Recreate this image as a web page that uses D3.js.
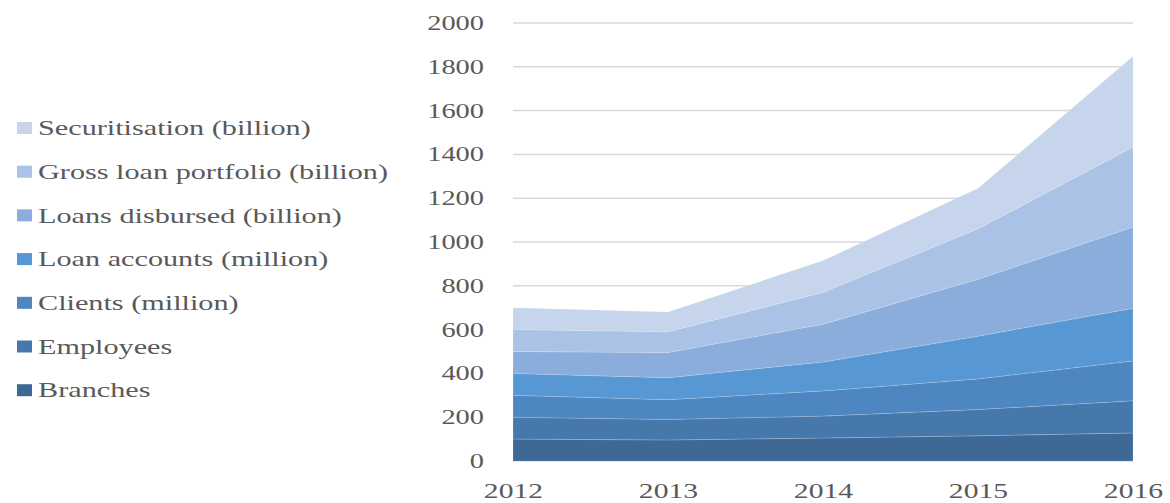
<!DOCTYPE html>
<html>
<head>
<meta charset="utf-8">
<script src="https://cdn.jsdelivr.net/npm/d3@7"></script>
<style>
  body { margin: 0; background: #fff; }
  svg { display: block; }
  .tick text { fill: #595959; font-family: "Liberation Serif", "Times New Roman", serif; }
  .legend text { fill: #595959; font-family: "Liberation Serif", "Times New Roman", serif; font-size: 21px; }
</style>
</head>
<body>
<script>
var w = 1170;
var h = 503;

// values (2012 = 100)
var years = [2012, 2013, 2014, 2015, 2016];
var seriesNames = ['Branches', 'Employees', 'Clients (million)', 'Loan accounts (million)',
  'Loans disbursed (billion)', 'Gross loan portfolio (billion)', 'Securitisation (billion)'];
var branches       = [100, 96, 105, 115, 128];
var employees      = [100, 94, 100, 120, 147];
var clients        = [100, 90, 115, 140, 182];
var loanAccounts   = [100, 100, 132, 195, 240];
var loansDisbursed = [100, 115, 173, 260, 371];
var grossLoan      = [100, 95, 145, 230, 366];
var securitisation = [100, 90, 145, 185, 414];
var yTicks = [0, 200, 400, 600, 800, 1000, 1200, 1400, 1600, 1800, 2000];

var colors = ['#3e6997', '#4678ac', '#4d86c0', '#5797d4', '#8aaddb', '#a9c2e5', '#c6d5eb'];

var seriesValues = [branches, employees, clients, loanAccounts, loansDisbursed, grossLoan, securitisation];
var table = years.map(function(y, i) {
  var row = { year: y };
  seriesNames.forEach(function(n, k) { row[n] = seriesValues[k][i]; });
  return row;
});

var x = d3.scaleLinear().domain([2012, 2016]).range([513, 1133]);
var y = d3.scaleLinear().domain([0, 2000]).range([461, 23]);

var svg = d3.select('body').append('svg').attr('width', w).attr('height', h);

// gridlines
svg.append('g').selectAll('line')
  .data(yTicks)
  .enter()
  .append('line')
  .attr('x1', x(2012))
  .attr('x2', x(2016))
  .attr('y1', function(d) { return y(d); })
  .attr('y2', function(d) { return y(d); })
  .attr('stroke', '#d9d9d9')
  .attr('stroke-width', 1.5);

var stack = d3.stack().keys(seriesNames);
var layers = stack(table);

var area = d3.area()
  .x(function(d) { return x(d.data.year); })
  .y0(function(d) { return y(d[0]); })
  .y1(function(d) { return y(d[1]); });

svg.append('g').selectAll('path')
  .data(layers)
  .enter()
  .append('path')
  .attr('d', area)
  .attr('fill', function(d, i) { return colors[i]; })
  .attr('stroke', 'rgba(255,255,255,0.2)')
  .attr('stroke-width', 0.8);

// y axis
var yAxis = svg.append('g')
  .attr('transform', 'translate(484,0)')
  .call(d3.axisLeft(y).tickValues(yTicks).tickFormat(d3.format('d')).tickSize(0).tickPadding(0));
yAxis.select('.domain').remove();
yAxis.selectAll('text')
  .attr('font-size', 20)
  .attr('transform', 'scale(1.42,1)');

// x axis
var xAxis = svg.append('g')
  .attr('transform', 'translate(0,461)')
  .call(d3.axisBottom(x).tickValues(years).tickFormat(d3.format('d')).tickSize(0).tickPadding(22));
xAxis.select('.domain').remove();
xAxis.selectAll('text')
  .attr('font-size', 21.5)
  .attr('transform', 'scale(1.38,1)');

// legend, top of stack first
var legendItems = seriesNames.map(function(n, i) { return { name: n, color: colors[i] }; }).reverse();
var legend = svg.append('g').attr('class', 'legend')
  .selectAll('g')
  .data(legendItems)
  .enter()
  .append('g')
  .attr('transform', function(d, i) { return 'translate(17,' + (128 + i * 43.7) + ')'; });

legend.append('rect')
  .attr('x', 0)
  .attr('y', -6)
  .attr('width', 15)
  .attr('height', 12)
  .attr('fill', function(d) { return d.color; });

legend.append('text')
  .attr('transform', 'translate(21,0) scale(1.44,1)')
  .attr('dy', '0.34em')
  .text(function(d) { return d.name; });
</script>
</body>
</html>
